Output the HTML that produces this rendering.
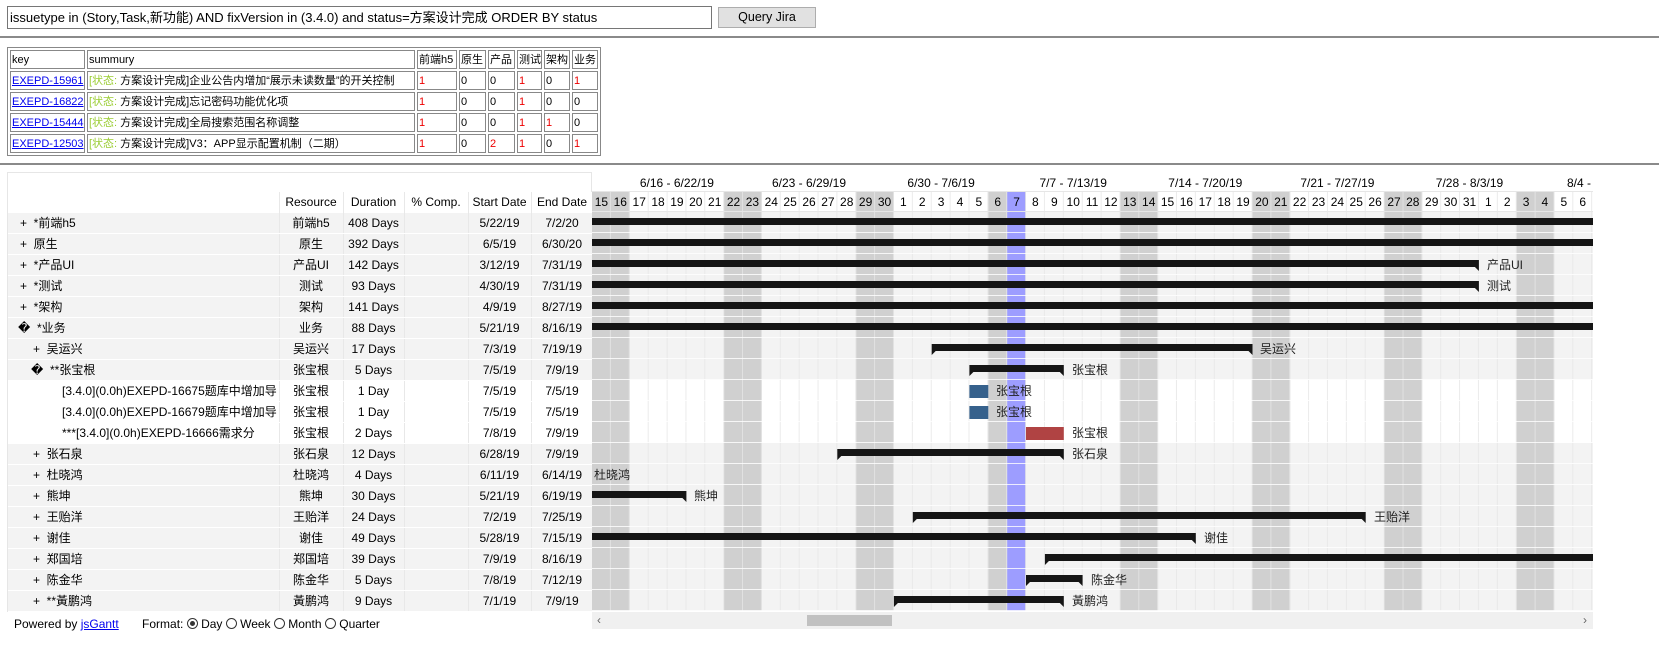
<!DOCTYPE html>
<html><head><meta charset="utf-8">
<style>
*{box-sizing:border-box}
body{margin:0;width:1659px;height:648px;background:#fff;font-family:"Liberation Sans","Noto Sans CJK SC",sans-serif;font-size:12px;color:#000;position:relative;overflow:hidden}
.a{position:absolute;white-space:nowrap}
.hr{position:absolute;left:0;width:1659px;height:2px;background:#8a8a8a}
table.t{position:absolute;left:7px;top:47px;width:592px;table-layout:fixed;border:1px solid #888;border-collapse:separate;border-spacing:2px;font-size:11px}
table.t td{border:1px solid #888;height:19px;padding:0 1px;line-height:16px;white-space:nowrap;overflow:hidden}
.r{color:#e00}.g{color:#9acd32}
a{color:#00e}
.lt{position:absolute;left:7px;top:172px;width:585px;height:440px;border:1px solid #e6e6e6}
.row{position:absolute;left:0;width:585px;height:21px;border-bottom:1px solid #fff}
.c{position:absolute;top:0;height:21px;line-height:20px;text-align:center;white-space:nowrap}
</style></head><body>
<div class="a" style="left:7px;top:6px;width:705px;height:23px;border:1px solid #767676;font-size:13px;line-height:21px;padding-left:2px">issuetype in (Story,Task,新功能) AND fixVersion in (3.4.0) and status=方案设计完成 ORDER BY status</div>
<div class="a" style="left:718px;top:7px;width:98px;height:21px;border:1px solid #adadad;background:#e1e1e1;font-size:12.5px;line-height:19px;text-align:center">Query Jira</div>
<div class="hr" style="top:36px"></div>
<table class="t">
<colgroup><col style="width:75px"><col style="width:328px"><col style="width:40px"><col style="width:27px"><col style="width:27px"><col style="width:25px"><col style="width:26px"><col style="width:26px"></colgroup>
<tr><td>key</td><td>summury</td><td>前端h5</td><td>原生</td><td>产品</td><td>测试</td><td>架构</td><td>业务</td></tr>
<tr><td><a href="#">EXEPD-15961</a></td><td><span class="g">[状态: </span>方案设计完成]企业公告内增加“展示未读数量”的开关控制</td><td class="r">1</td><td>0</td><td>0</td><td class="r">1</td><td>0</td><td class="r">1</td></tr>
<tr><td><a href="#">EXEPD-16822</a></td><td><span class="g">[状态: </span>方案设计完成]忘记密码功能优化项</td><td class="r">1</td><td>0</td><td>0</td><td class="r">1</td><td>0</td><td>0</td></tr>
<tr><td><a href="#">EXEPD-15444</a></td><td><span class="g">[状态: </span>方案设计完成]全局搜索范围名称调整</td><td class="r">1</td><td>0</td><td>0</td><td class="r">1</td><td class="r">1</td><td>0</td></tr>
<tr><td><a href="#">EXEPD-12503</a></td><td><span class="g">[状态: </span>方案设计完成]V3：APP显示配置机制（二期）</td><td class="r">1</td><td>0</td><td class="r">2</td><td class="r">1</td><td>0</td><td class="r">1</td></tr>
</table>
<div class="hr" style="top:163px"></div>

<div class="lt">
<div class="row" style="top:19px;height:21px;background:#fff">
<div class="c" style="left:271px;width:64px">Resource</div><div class="c" style="left:335px;width:61px">Duration</div><div class="c" style="left:396px;width:64px">% Comp.</div><div class="c" style="left:460px;width:63px">Start Date</div><div class="c" style="left:523px;width:62px">End Date</div>
</div>
<div style="position:absolute;left:0;top:40px;width:585px;height:399px;background:#f3f3f3"></div>
<div style="position:absolute;left:0;top:208px;width:585px;height:63px;background:#fff"></div>
<div style="position:absolute;left:271px;top:19px;width:1px;height:420px;background:#e8e8e8"></div>
<div style="position:absolute;left:335px;top:19px;width:1px;height:420px;background:#e8e8e8"></div>
<div style="position:absolute;left:396px;top:19px;width:1px;height:420px;background:#e8e8e8"></div>
<div style="position:absolute;left:460px;top:19px;width:1px;height:420px;background:#e8e8e8"></div>
<div style="position:absolute;left:523px;top:19px;width:1px;height:420px;background:#e8e8e8"></div>
<div id="rows">
<div class="row" style="top:40px"><div class="c" style="left:12px;text-align:left">+&nbsp; *前端h5</div><div class="c" style="left:271px;width:64px">前端h5</div><div class="c" style="left:335px;width:61px">408 Days</div><div class="c" style="left:460px;width:63px">5/22/19</div><div class="c" style="left:523px;width:62px">7/2/20</div></div>
<div class="row" style="top:61px"><div class="c" style="left:12px;text-align:left">+&nbsp; 原生</div><div class="c" style="left:271px;width:64px">原生</div><div class="c" style="left:335px;width:61px">392 Days</div><div class="c" style="left:460px;width:63px">6/5/19</div><div class="c" style="left:523px;width:62px">6/30/20</div></div>
<div class="row" style="top:82px"><div class="c" style="left:12px;text-align:left">+&nbsp; *产品UI</div><div class="c" style="left:271px;width:64px">产品UI</div><div class="c" style="left:335px;width:61px">142 Days</div><div class="c" style="left:460px;width:63px">3/12/19</div><div class="c" style="left:523px;width:62px">7/31/19</div></div>
<div class="row" style="top:103px"><div class="c" style="left:12px;text-align:left">+&nbsp; *测试</div><div class="c" style="left:271px;width:64px">测试</div><div class="c" style="left:335px;width:61px">93 Days</div><div class="c" style="left:460px;width:63px">4/30/19</div><div class="c" style="left:523px;width:62px">7/31/19</div></div>
<div class="row" style="top:124px"><div class="c" style="left:12px;text-align:left">+&nbsp; *架构</div><div class="c" style="left:271px;width:64px">架构</div><div class="c" style="left:335px;width:61px">141 Days</div><div class="c" style="left:460px;width:63px">4/9/19</div><div class="c" style="left:523px;width:62px">8/27/19</div></div>
<div class="row" style="top:145px"><div class="c" style="left:10px;text-align:left">&#xFFFD;&nbsp; *业务</div><div class="c" style="left:271px;width:64px">业务</div><div class="c" style="left:335px;width:61px">88 Days</div><div class="c" style="left:460px;width:63px">5/21/19</div><div class="c" style="left:523px;width:62px">8/16/19</div></div>
<div class="row" style="top:166px"><div class="c" style="left:25px;text-align:left">+&nbsp; 吴运兴</div><div class="c" style="left:271px;width:64px">吴运兴</div><div class="c" style="left:335px;width:61px">17 Days</div><div class="c" style="left:460px;width:63px">7/3/19</div><div class="c" style="left:523px;width:62px">7/19/19</div></div>
<div class="row" style="top:187px"><div class="c" style="left:23px;text-align:left">&#xFFFD;&nbsp; **张宝根</div><div class="c" style="left:271px;width:64px">张宝根</div><div class="c" style="left:335px;width:61px">5 Days</div><div class="c" style="left:460px;width:63px">7/5/19</div><div class="c" style="left:523px;width:62px">7/9/19</div></div>
<div class="row" style="top:208px"><div class="c" style="left:54px;text-align:left">[3.4.0](0.0h)EXEPD-16675题库中增加导</div><div class="c" style="left:271px;width:64px">张宝根</div><div class="c" style="left:335px;width:61px">1 Day</div><div class="c" style="left:460px;width:63px">7/5/19</div><div class="c" style="left:523px;width:62px">7/5/19</div></div>
<div class="row" style="top:229px"><div class="c" style="left:54px;text-align:left">[3.4.0](0.0h)EXEPD-16679题库中增加导</div><div class="c" style="left:271px;width:64px">张宝根</div><div class="c" style="left:335px;width:61px">1 Day</div><div class="c" style="left:460px;width:63px">7/5/19</div><div class="c" style="left:523px;width:62px">7/5/19</div></div>
<div class="row" style="top:250px"><div class="c" style="left:54px;text-align:left">***[3.4.0](0.0h)EXEPD-16666需求分</div><div class="c" style="left:271px;width:64px">张宝根</div><div class="c" style="left:335px;width:61px">2 Days</div><div class="c" style="left:460px;width:63px">7/8/19</div><div class="c" style="left:523px;width:62px">7/9/19</div></div>
<div class="row" style="top:271px"><div class="c" style="left:25px;text-align:left">+&nbsp; 张石泉</div><div class="c" style="left:271px;width:64px">张石泉</div><div class="c" style="left:335px;width:61px">12 Days</div><div class="c" style="left:460px;width:63px">6/28/19</div><div class="c" style="left:523px;width:62px">7/9/19</div></div>
<div class="row" style="top:292px"><div class="c" style="left:25px;text-align:left">+&nbsp; 杜晓鸿</div><div class="c" style="left:271px;width:64px">杜晓鸿</div><div class="c" style="left:335px;width:61px">4 Days</div><div class="c" style="left:460px;width:63px">6/11/19</div><div class="c" style="left:523px;width:62px">6/14/19</div></div>
<div class="row" style="top:313px"><div class="c" style="left:25px;text-align:left">+&nbsp; 熊坤</div><div class="c" style="left:271px;width:64px">熊坤</div><div class="c" style="left:335px;width:61px">30 Days</div><div class="c" style="left:460px;width:63px">5/21/19</div><div class="c" style="left:523px;width:62px">6/19/19</div></div>
<div class="row" style="top:334px"><div class="c" style="left:25px;text-align:left">+&nbsp; 王贻洋</div><div class="c" style="left:271px;width:64px">王贻洋</div><div class="c" style="left:335px;width:61px">24 Days</div><div class="c" style="left:460px;width:63px">7/2/19</div><div class="c" style="left:523px;width:62px">7/25/19</div></div>
<div class="row" style="top:355px"><div class="c" style="left:25px;text-align:left">+&nbsp; 谢佳</div><div class="c" style="left:271px;width:64px">谢佳</div><div class="c" style="left:335px;width:61px">49 Days</div><div class="c" style="left:460px;width:63px">5/28/19</div><div class="c" style="left:523px;width:62px">7/15/19</div></div>
<div class="row" style="top:376px"><div class="c" style="left:25px;text-align:left">+&nbsp; 郑国培</div><div class="c" style="left:271px;width:64px">郑国培</div><div class="c" style="left:335px;width:61px">39 Days</div><div class="c" style="left:460px;width:63px">7/9/19</div><div class="c" style="left:523px;width:62px">8/16/19</div></div>
<div class="row" style="top:397px"><div class="c" style="left:25px;text-align:left">+&nbsp; 陈金华</div><div class="c" style="left:271px;width:64px">陈金华</div><div class="c" style="left:335px;width:61px">5 Days</div><div class="c" style="left:460px;width:63px">7/8/19</div><div class="c" style="left:523px;width:62px">7/12/19</div></div>
<div class="row" style="top:418px"><div class="c" style="left:25px;text-align:left">+&nbsp; **黃鹏鸿</div><div class="c" style="left:271px;width:64px">黃鹏鸿</div><div class="c" style="left:335px;width:61px">9 Days</div><div class="c" style="left:460px;width:63px">7/1/19</div><div class="c" style="left:523px;width:62px">7/9/19</div></div>
</div>
</div>
<div class="a" style="left:14px;top:616px;font-size:12px;line-height:16px">Powered by <a href="#">jsGantt</a> &nbsp; &nbsp; &nbsp; Format: <span style="display:inline-block;width:11px;height:11px;border:1px solid #333;border-radius:50%;vertical-align:-1px;position:relative"><span style="position:absolute;left:2px;top:2px;width:5px;height:5px;border-radius:50%;background:#333"></span></span> Day <span style="display:inline-block;width:11px;height:11px;border:1px solid #333;border-radius:50%;vertical-align:-1px"></span> Week <span style="display:inline-block;width:11px;height:11px;border:1px solid #333;border-radius:50%;vertical-align:-1px"></span> Month <span style="display:inline-block;width:11px;height:11px;border:1px solid #333;border-radius:50%;vertical-align:-1px"></span> Quarter</div>

<svg class="a" style="left:592px;top:172px" width="1001" height="440" viewBox="0 0 1001 440" font-family="Liberation Sans, Noto Sans CJK SC, sans-serif" font-size="12">
<defs>
<pattern id="vg" x="0" y="19" width="18.87" height="21" patternUnits="userSpaceOnUse">
<rect x="18.07" y="0" width="0.8" height="21" fill="#e6e6e6"/>
<rect x="0" y="20.2" width="18.87" height="0.8" fill="#fff"/>
</pattern>
</defs>
<rect x="0" y="0" width="1001" height="19" fill="#fff"/>
<rect x="0" y="19" width="1001" height="21" fill="#fff"/>
<rect x="0" y="40" width="1001" height="399" fill="#f3f3f3"/>
<rect x="0" y="208" width="1001" height="63" fill="#fff"/>
<g fill="#d0d0d0">
<rect x="0" y="19" width="37.7" height="420"/>
<rect x="132.1" y="19" width="37.7" height="420"/>
<rect x="264.2" y="19" width="37.7" height="420"/>
<rect x="396.3" y="19" width="18.9" height="420"/>
<rect x="528.4" y="19" width="37.7" height="420"/>
<rect x="660.5" y="19" width="37.7" height="420"/>
<rect x="792.5" y="19" width="37.7" height="420"/>
<rect x="924.6" y="19" width="37.7" height="420"/>
</g>
<rect x="415.1" y="19" width="18.9" height="420" fill="#9d9dff"/>
<rect x="0" y="19" width="1001" height="420" fill="url(#vg)"/>
<line x1="0" y1="19.5" x2="1001" y2="19.5" stroke="#e6e6e6"/>
<line x1="0" y1="39.5" x2="1001" y2="39.5" stroke="#e6e6e6"/>
<g text-anchor="middle">
<text x="84.9" y="15">6/16 - 6/22/19</text><text x="217" y="15">6/23 - 6/29/19</text><text x="349.1" y="15">6/30 - 7/6/19</text><text x="481.2" y="15">7/7 - 7/13/19</text><text x="613.3" y="15">7/14 - 7/20/19</text><text x="745.4" y="15">7/21 - 7/27/19</text><text x="877.5" y="15">7/28 - 8/3/19</text>
</g>
<text x="975" y="15">8/4 - 8/10/19</text>
<g text-anchor="middle" font-size="12">
<text x="9.4" y="34">15</text><text x="28.3" y="34">16</text><text x="47.2" y="34">17</text><text x="66" y="34">18</text><text x="84.9" y="34">19</text><text x="103.8" y="34">20</text><text x="122.7" y="34">21</text><text x="141.5" y="34">22</text><text x="160.4" y="34">23</text><text x="179.3" y="34">24</text><text x="198.1" y="34">25</text><text x="217" y="34">26</text><text x="235.9" y="34">27</text><text x="254.7" y="34">28</text><text x="273.6" y="34">29</text><text x="292.5" y="34">30</text><text x="311.4" y="34">1</text><text x="330.2" y="34">2</text><text x="349.1" y="34">3</text><text x="368" y="34">4</text><text x="386.8" y="34">5</text><text x="405.7" y="34">6</text><text x="424.6" y="34">7</text><text x="443.4" y="34">8</text><text x="462.3" y="34">9</text><text x="481.2" y="34">10</text><text x="500.1" y="34">11</text><text x="518.9" y="34">12</text><text x="537.8" y="34">13</text><text x="556.7" y="34">14</text><text x="575.5" y="34">15</text><text x="594.4" y="34">16</text><text x="613.3" y="34">17</text><text x="632.1" y="34">18</text><text x="651" y="34">19</text><text x="669.9" y="34">20</text><text x="688.8" y="34">21</text><text x="707.6" y="34">22</text><text x="726.5" y="34">23</text><text x="745.4" y="34">24</text><text x="764.2" y="34">25</text><text x="783.1" y="34">26</text><text x="802" y="34">27</text><text x="820.8" y="34">28</text><text x="839.7" y="34">29</text><text x="858.6" y="34">30</text><text x="877.5" y="34">31</text><text x="896.3" y="34">1</text><text x="915.2" y="34">2</text><text x="934.1" y="34">3</text><text x="952.9" y="34">4</text><text x="971.8" y="34">5</text><text x="990.7" y="34">6</text>
</g>
<g fill="#151515">
<rect x="0" y="46" width="1001" height="7"/>
<rect x="0" y="67" width="1001" height="7"/>
<rect x="0" y="88" width="886.9" height="7"/><polygon points="882.9,95 886.9,95 886.9,99"/>
<rect x="0" y="109" width="886.9" height="7"/><polygon points="882.9,116 886.9,116 886.9,120"/>
<rect x="0" y="130" width="1001" height="7"/>
<rect x="0" y="151" width="1001" height="7"/>
<rect x="339.7" y="172" width="320.8" height="7"/><polygon points="339.7,179 343.7,179 339.7,183"/><polygon points="656.5,179 660.5,179 660.5,183"/>
<rect x="377.4" y="193" width="94.4" height="7"/><polygon points="377.4,200 381.4,200 377.4,204"/><polygon points="467.8,200 471.8,200 471.8,204"/>
<rect x="245.3" y="277" width="226.5" height="7"/><polygon points="245.3,284 249.3,284 245.3,288"/><polygon points="467.8,284 471.8,284 471.8,288"/>
<rect x="0" y="319" width="94.4" height="7"/><polygon points="90.4,326 94.4,326 94.4,330"/>
<rect x="320.8" y="340" width="452.9" height="7"/><polygon points="320.8,347 324.8,347 320.8,351"/><polygon points="769.7,347 773.7,347 773.7,351"/>
<rect x="0" y="361" width="603.8" height="7"/><polygon points="599.8,368 603.8,368 603.8,372"/>
<rect x="452.9" y="382" width="548.1" height="7"/><polygon points="452.9,389 456.9,389 452.9,393"/>
<rect x="434" y="403" width="56.6" height="7"/><polygon points="434,410 438,410 434,414"/><polygon points="486.6,410 490.6,410 490.6,414"/>
<rect x="301.9" y="424" width="169.9" height="7"/><polygon points="301.9,431 305.9,431 301.9,435"/><polygon points="467.8,431 471.8,431 471.8,435"/>
</g>
<rect x="377.4" y="213" width="18.9" height="13" fill="#36618c"/>
<rect x="377.4" y="234" width="18.9" height="13" fill="#36618c"/>
<rect x="434" y="255" width="37.8" height="13" fill="#b04343"/>
<g fill="#222">
<text x="895" y="97">产品UI</text>
<text x="895" y="118">测试</text>
<text x="668" y="181">吴运兴</text>
<text x="480" y="202">张宝根</text>
<text x="404" y="223">张宝根</text>
<text x="404" y="244">张宝根</text>
<text x="480" y="265">张宝根</text>
<text x="480" y="286">张石泉</text>
<text x="2" y="307">杜晓鸿</text>
<text x="102" y="328">熊坤</text>
<text x="782" y="349">王贻洋</text>
<text x="612" y="370">谢佳</text>
<text x="499" y="412">陈金华</text>
<text x="480" y="433">黃鹏鸿</text>
</g>
</svg>
<!-- scrollbar -->
<div class="a" style="left:592px;top:612px;width:1001px;height:17px;background:#f0f0f0"></div>
<div class="a" style="left:807px;top:615px;width:85px;height:11px;background:#c1c1c1"></div>
<div class="a" style="left:597px;top:612px;font-size:12px;line-height:17px;color:#666">‹</div>
<div class="a" style="left:1583px;top:612px;font-size:12px;line-height:17px;color:#666">›</div>
</body></html>
